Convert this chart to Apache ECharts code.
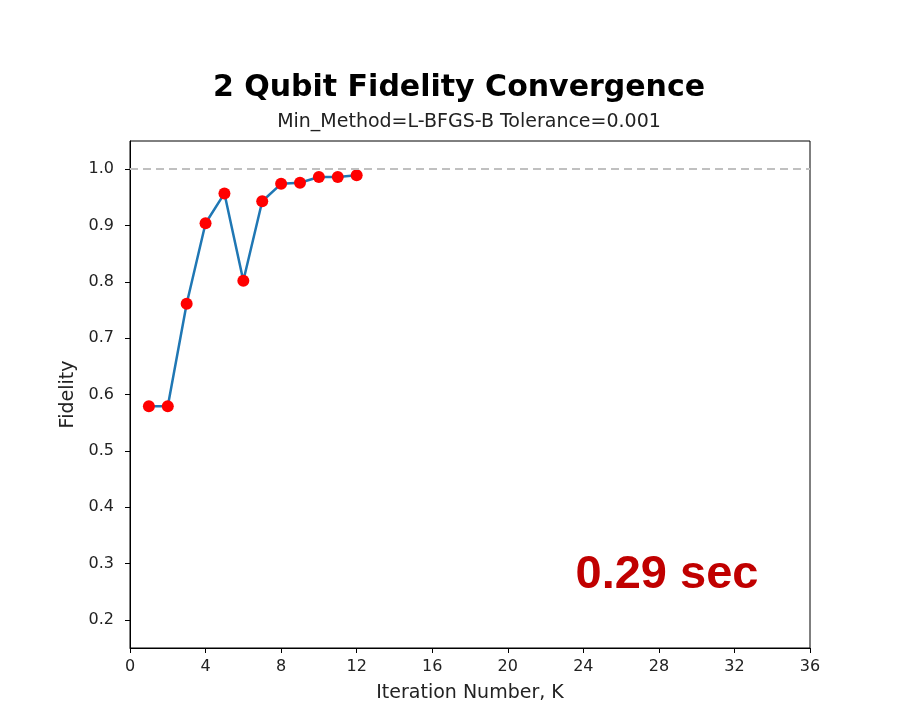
<!DOCTYPE html>
<html>
<head>
<meta charset="utf-8">
<script src="https://cdn.jsdelivr.net/npm/echarts@6/dist/echarts.min.js"></script>
<style>
html,body{margin:0;padding:0;background:#fff;}
#chart{width:906px;height:728px;}
</style>
</head>
<body>
<div id="chart"></div>
<script>
const iterations = [1, 2, 3, 4, 5, 6, 7, 8, 9, 10, 11, 12];
const fidelity = [0.579, 0.579, 0.761, 0.904, 0.957, 0.802, 0.943, 0.974, 0.976, 0.986, 0.986, 0.989];
const yTicks = [0.2, 0.3, 0.4, 0.5, 0.6, 0.7, 0.8, 0.9, 1.0];
const targetFidelity = 1.0;
const titleText = '2 Qubit Fidelity Convergence';
const subtitleText = 'Min_Method=L-BFGS-B Tolerance=0.001';
const timeText = '0.29 sec';

const chart = echarts.init(document.getElementById('chart'), null, {renderer: 'canvas'});
const font = 'DejaVu Sans';
chart.setOption({
  animation: false,
  backgroundColor: '#fff',
  grid: {left: 130, right: 96, top: 141, bottom: 80, show: true, borderColor: '#000', borderWidth: 1, backgroundColor: 'transparent'},
  xAxis: {
    type: 'value', min: 0, max: 36, interval: 4,
    name: 'Iteration Number, K', nameLocation: 'middle', nameGap: 36,
    nameTextStyle: {fontFamily: font, fontSize: 19, color: '#222'},
    axisLine: {show: true, lineStyle: {color: '#000', width: 1}},
    axisTick: {show: true, inside: false, length: 5, lineStyle: {color: '#000'}},
    axisLabel: {fontFamily: font, fontSize: 16, color: '#222', margin: 11},
    splitLine: {show: false}
  },
  yAxis: {
    type: 'value', min: 0.15, max: 1.05,
    name: 'Fidelity', nameLocation: 'middle', nameGap: 52, nameRotate: 90,
    nameTextStyle: {fontFamily: font, fontSize: 19, color: '#222'},
    axisLine: {show: true, lineStyle: {color: '#000', width: 1}},
    axisTick: {show: true, inside: false, length: 5, lineStyle: {color: '#000'}, customValues: yTicks},
    axisLabel: {fontFamily: font, fontSize: 16, color: '#222', margin: 16, customValues: yTicks, formatter: v => v.toFixed(1)},
    splitLine: {show: false}
  },
  graphic: [
    {type: 'text', style: {text: titleText, x: 459, y: 88, align: 'center', verticalAlign: 'middle', font: 'bold 30px "DejaVu Sans"', fill: '#000'}},
    {type: 'text', style: {text: subtitleText, x: 469, y: 122, align: 'center', verticalAlign: 'middle', font: '19px "DejaVu Sans"', fill: '#222'}},
    {type: 'text', style: {text: timeText, x: 667, y: 575, align: 'center', verticalAlign: 'middle', font: 'bold 47px "Liberation Sans"', fill: '#c00000'}}
  ],
  series: [{
    type: 'line',
    data: iterations.map((x, i) => [x, fidelity[i]]),
    symbol: 'circle', symbolSize: 12,
    showAllSymbol: true,
    lineStyle: {color: '#1f77b4', width: 2.5},
    itemStyle: {color: '#ff0000', borderWidth: 0},
    z: 3,
    markLine: {
      silent: true, symbol: ['none', 'none'],
      label: {show: false},
      lineStyle: {color: '#c0c0c0', type: [8, 5], width: 2},
      data: [{yAxis: targetFidelity}]
    }
  }]
});
</script>
</body>
</html>
